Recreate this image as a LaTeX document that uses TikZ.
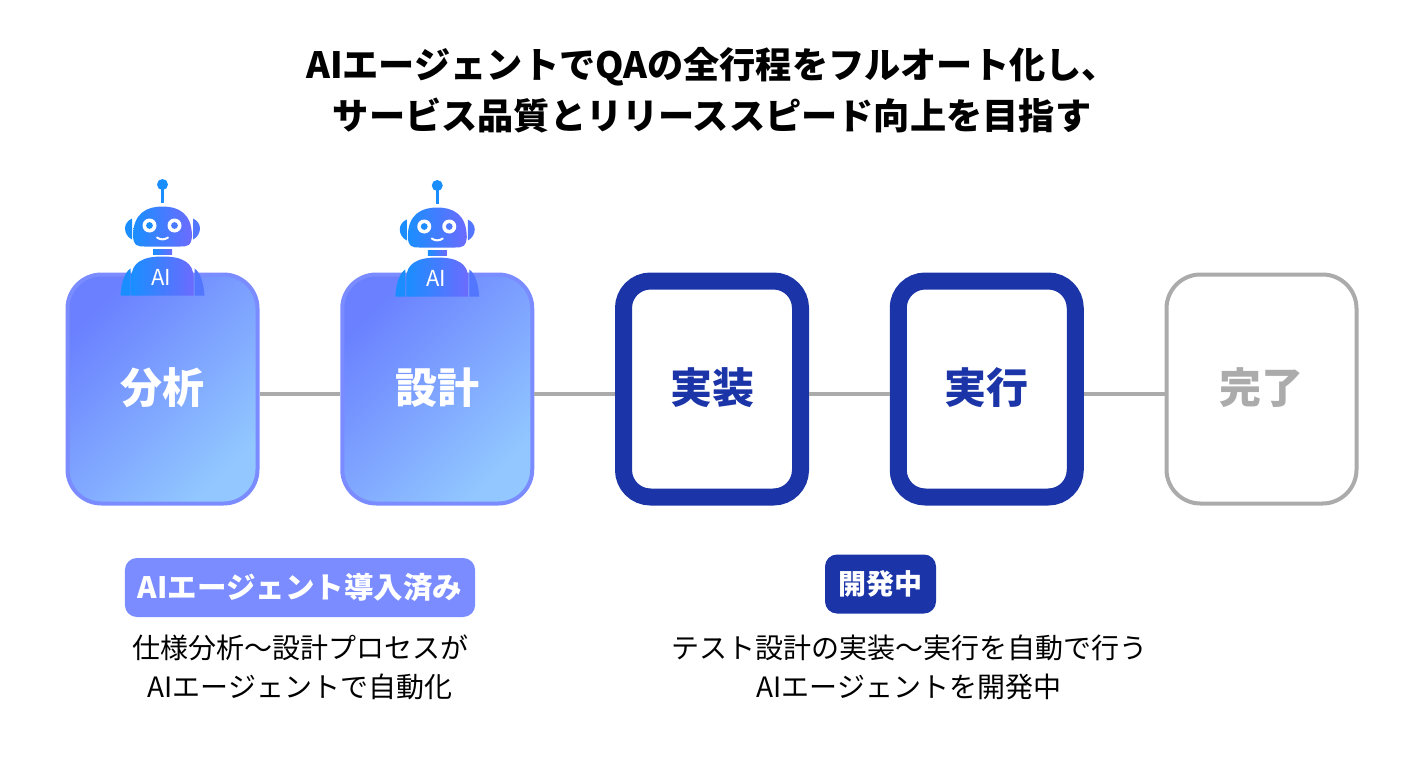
\documentclass[tikz,border=0pt]{standalone}
\usepackage{fontspec}
\setmainfont{Noto Sans CJK JP}
\usetikzlibrary{positioning}
\definecolor{doneL}{HTML}{6A80FF}
\definecolor{doneR}{HTML}{92C8FF}
\definecolor{doneline}{HTML}{7A8CFF}
\definecolor{devblue}{HTML}{1B35A8}
\definecolor{todogray}{HTML}{ABABAB}
\definecolor{robotL}{HTML}{1A8EFF}
\definecolor{robotR}{HTML}{6C6BFF}
\begin{document}
\begin{tikzpicture}[
    x=1pt, y=1pt,
    node distance=80.75pt,
    stepbase/.style={align=center, text height=31pt, text depth=3pt, font=\fontsize{42}{50}\selectfont\bfseries},
    stepthin/.style={stepbase, rounded corners=34pt, line width=4pt, minimum width=190pt, minimum height=229pt},
    stepdone/.style={stepthin, draw=doneline, left color=doneL, right color=doneR, shading angle=45, text=white},
    stepdev/.style={stepbase, rounded corners=27pt, draw=devblue, line width=17pt, minimum width=177pt, minimum height=216pt, fill=white, text=devblue},
    steptodo/.style={stepthin, draw=todogray, fill=white, text=todogray},
    conn/.style={todogray, line width=4pt},
    badge/.style={rounded corners=12pt, text=white, minimum height=59pt, inner xsep=13pt, inner ysep=0pt, font=\fontsize{28}{34}\selectfont\bfseries},
    note/.style={align=center, text=black, font=\fontsize{28}{39}\selectfont},
    robotfill/.style={left color=robotL, right color=robotR},
    robot/.pic={
        \fill[robotL] (0,88) circle (5.5);
        \fill[robotL] (-1.5,84) rectangle (1.5,70);
        \path[robotfill] (-29.5,36) .. controls (-29.5,60) and (-15,66) .. (0,66) .. controls (15,66) and (29.5,60) .. (29.5,36) -- (29.5,38) .. controls (29.5,26) and (24,26) .. (18,26) -- (-18,26) .. controls (-24,26) and (-29.5,26) .. (-29.5,38) -- cycle;
        \fill[robotL] (-30.5,54) .. controls (-35,52) and (-37.5,48) .. (-37.5,44) .. controls (-37.5,40) and (-35,35) .. (-30.5,33) -- cycle;
        \fill[robotR!70!robotL] (30.5,54) .. controls (35,52) and (37.5,48) .. (37.5,44) .. controls (37.5,40) and (35,35) .. (30.5,33) -- cycle;
        \fill[white] (-13,47) circle (7) (12,47) circle (7);
        \fill[robotL] (-13,47) circle (3.4);
        \fill[robotR!60!robotL] (12,47) circle (3.4);
        \draw[white, line width=2pt, line cap=round] (-5.5,35) .. controls (-2,32.5) and (2,32.5) .. (5.5,35);
        \path[robotfill] (-9.5,23) rectangle (9.5,18);
        \fill[robotL] (-32,-23) -- (-42,-23) .. controls (-41,-10) and (-38,0) .. (-32,4) -- cycle;
        \fill[robotR!70!robotL] (32,-23) -- (42,-23) .. controls (41,-10) and (38,0) .. (32,4) -- cycle;
        \path[robotfill] (-31,-23) -- (-31,-5) .. controls (-31,10) and (-20,16) .. (0,16) .. controls (20,16) and (31,10) .. (31,-5) -- (31,-23) -- cycle;
        \node[text=white, inner sep=0pt, font=\fontsize{22}{24}\selectfont] (-ai) at (-1,-5) {AI};
    }
]
\useasboundingbox (0,0) rectangle (1424,-784);
\node[align=center, font=\fontsize{36.2}{51}\selectfont\bfseries] (title) at (712,-90.5) {AIエージェントでQAの全行程をフルオート化し、\\サービス品質とリリーススピード向上を目指す};
\node[stepdone] (bunseki) at (162.5,-389) {分析};
\node[stepdone, right=of bunseki] (sekkei) {設計};
\node[stepdev, right=of sekkei] (jisso) {実装};
\node[stepdev, right=of jisso] (jikko) {実行};
\node[steptodo, right=of jikko] (kanryo) {完了};
\draw[conn] ([yshift=-4.5pt]bunseki.east) -- ([yshift=-4.5pt]sekkei.west);
\draw[conn] ([yshift=-4.5pt]sekkei.east) -- ([yshift=-4.5pt]jisso.west);
\draw[conn] ([yshift=-4.5pt]jisso.east) -- ([yshift=-4.5pt]jikko.west);
\draw[conn] ([yshift=-4.5pt]jikko.east) -- ([yshift=-4.5pt]kanryo.west);
\pic (robotA) at (bunseki.north) {robot};
\pic (robotB) at ([yshift=-1pt]sekkei.north) {robot};
\node[badge, fill=doneline, minimum width=348pt, font=\fontsize{29.5}{34}\selectfont\bfseries] (donebadge) at (300,-587.5) {AIエージェント導入済み};
\node[badge, fill=devblue, minimum width=111pt] (devbadge) at (880.5,-584) {開発中};
\node[note] (donenote) at (300,-667.5) {仕様分析〜設計プロセスが\\AIエージェントで自動化};
\node[note] (devnote) at (909,-667.5) {テスト設計の実装〜実行を自動で行う\\AIエージェントを開発中};
\end{tikzpicture}
\end{document}
